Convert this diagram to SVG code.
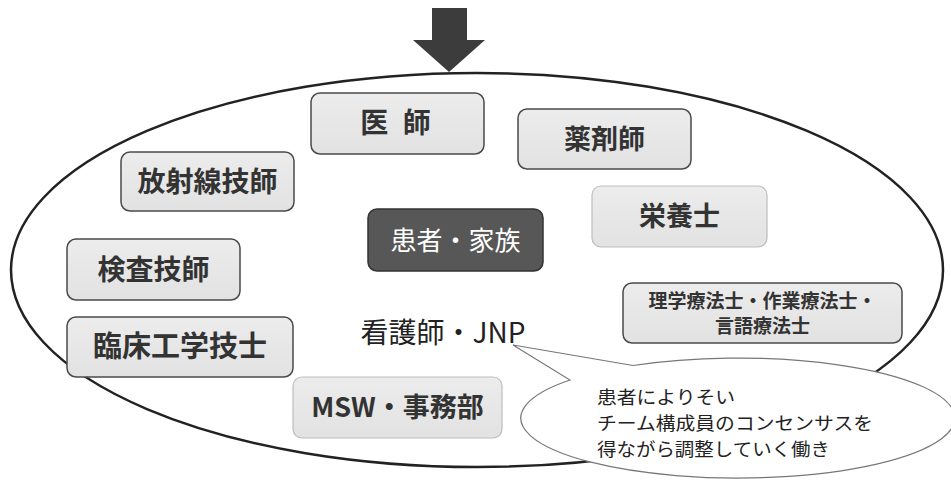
<svg xmlns="http://www.w3.org/2000/svg" width="951" height="480" viewBox="0 0 951 480">
<defs>
<linearGradient id="boxg" x1="0" y1="0" x2="0" y2="1">
<stop offset="0" stop-color="#ececec"/>
<stop offset="1" stop-color="#e2e2e2"/>
</linearGradient>
<style>
.box{fill:url(#boxg);stroke:#4a4a4a;stroke-width:1.5}
.boxl{fill:url(#boxg);stroke:#bdbdbd;stroke-width:1.2}
.dark{fill:#575757;stroke:#333;stroke-width:1.5}
.t{font-family:"Noto Sans CJK JP","Liberation Sans",sans-serif;font-weight:700;fill:#333;text-anchor:middle}
.tw{font-family:"Noto Sans CJK JP","Liberation Sans",sans-serif;font-weight:400;fill:#fff;text-anchor:middle}
.tn{font-family:"Noto Sans CJK JP","Liberation Sans",sans-serif;font-weight:400;fill:#222}
</style>
</defs>
<rect width="951" height="480" fill="#fff"/>
<g id="connectors">
<polygon points="432,8 467,8 467,40 485,40 449,72 413,40 432,40" fill="#3c3c3c"/>
<ellipse cx="477" cy="270" rx="466" ry="197" fill="none" stroke="#222" stroke-width="2.5"/>
</g>
<g id="ishi"><rect class="box" x="311" y="93" width="173" height="61" rx="9"/><text class="t" x="397.5" y="133" font-size="28" xml:space="preserve" letter-spacing="4">医 師</text></g>
<g id="yakuzaishi"><rect class="box" x="518" y="109" width="173" height="60" rx="9"/><text class="t" x="604.5" y="148.5" font-size="27">薬剤師</text></g>
<g id="hoshasen"><rect class="box" x="121" y="152" width="173" height="59" rx="9"/><text class="t" x="207.5" y="191.5" font-size="28">放射線技師</text></g>
<g id="eiyoshi"><rect class="boxl" x="592" y="186" width="175" height="61" rx="9"/><text class="t" x="679.5" y="226" font-size="27">栄養士</text></g>
<g id="kanja"><rect class="dark" x="368" y="209" width="175" height="62" rx="9"/><text class="tw" x="455.5" y="249.5" font-size="26">患者・家族</text></g>
<g id="kensa"><rect class="box" x="67" y="239" width="173" height="61" rx="9"/><text class="t" x="153.5" y="279.5" font-size="28">検査技師</text></g>
<g id="rigaku"><rect class="box" x="623" y="283" width="279" height="60" rx="9"/><text class="t" x="762.5" y="308" font-size="19">理学療法士・作業療法士・</text><text class="t" x="762.5" y="333" font-size="19">言語療法士</text></g>
<g id="rinsho"><rect class="box" x="67" y="317" width="226" height="60" rx="9"/><text class="t" x="180" y="357" font-size="29">臨床工学技士</text></g>
<g id="msw"><rect class="boxl" x="293" y="377" width="209" height="61" rx="9"/><text class="t" x="397.5" y="417" font-size="27">MSW・事務部</text></g>
<g id="kangoshi"><text class="tn" x="443" y="343" font-size="28" text-anchor="middle">看護師・JNP</text></g>
<g id="callout">
<path d="M 633 365.5 L 513 345 L 570 380 A 217 60 0 1 0 633 365.5 Z" fill="#fff" stroke="#777" stroke-width="1.2"/>
<text class="tn" x="597" y="404" font-size="18" textLength="138" lengthAdjust="spacingAndGlyphs">患者によりそい</text>
<text class="tn" x="597" y="430" font-size="18" textLength="276" lengthAdjust="spacingAndGlyphs">チーム構成員のコンセンサスを</text>
<text class="tn" x="597" y="456" font-size="18" textLength="233" lengthAdjust="spacingAndGlyphs">得ながら調整していく働き</text>
</g>
</svg>
